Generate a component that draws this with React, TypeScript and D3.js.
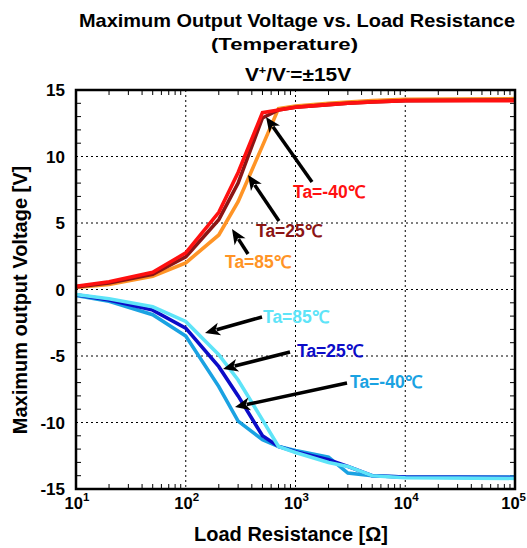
import React from "react";
import * as d3 from "d3";

const resistance = [10, 20, 50, 100, 200, 300, 500, 700, 1000, 2000, 3000, 5000, 10000, 100000];

const posM40 = [0.25, 0.58, 1.3, 2.75, 5.8, 8.8, 13.3, 13.5, 13.7, 13.9, 14.0, 14.1, 14.2, 14.2];
const pos25 = [0.2, 0.5, 1.15, 2.45, 5.25, 8.0, 12.9, 13.5, 13.7, 13.9, 14.0, 14.1, 14.2, 14.25];
const pos85 = [0.15, 0.38, 1.0, 2.0, 4.1, 6.6, 10.8, 13.6, 13.8, 14.0, 14.1, 14.2, 14.3, 14.35];

const negM40 = [-0.45, -0.88, -1.9, -3.5, -7.3, -9.9, -11.3, -11.8, -12.1, -12.6, -13.8, -14.0, -14.1, -14.1];
const neg25 = [-0.4, -0.78, -1.55, -2.9, -5.8, -8.0, -11.0, -11.8, -12.2, -12.8, -13.3, -14.0, -14.1, -14.15];
const neg85 = [-0.37, -0.7, -1.3, -2.4, -4.9, -6.8, -9.8, -11.8, -12.25, -13.0, -13.3, -14.0, -14.15, -14.2];

const yTicks = [15, 10, 5, 0, -5, -10, -15];
const xDecades = [1, 2, 3, 4, 5];

const seriesNames = ["Ta=85℃", "Ta=25℃", "Ta=-40℃", "Ta=-40℃", "Ta=25℃", "Ta=85℃"];

const X0 = 76, X1 = 515, Y0 = 90, Y1 = 489;

export default function App() {
  const x = d3.scaleLog().domain([10, 100000]).range([X0, X1]);
  const y = d3.scaleLinear().domain([-15, 15]).range([Y1, Y0]);
  const line = d3
    .line<[number, number]>()
    .x((d) => x(d[0]))
    .y((d) => y(d[1]));
  const mk = (vals: number[]) => line(resistance.map((r, i) => [r, vals[i]] as [number, number])) || "";

  const series = [
    { vals: pos85, color: "#FF9426" },
    { vals: pos25, color: "#8B1515" },
    { vals: posM40, color: "#FF1010" },
    { vals: negM40, color: "#1AA2E2" },
    { vals: neg25, color: "#0C0CC8" },
    { vals: neg85, color: "#5EE4F8" },
  ];

  const annots = [
    { name: seriesNames[2], color: "#FF1010", tx: 293, ty: 198, sx: 312, sy: 182, ex: 266, ey: 117 },
    { name: seriesNames[1], color: "#8B1515", tx: 256, ty: 237, sx: 279, sy: 221, ex: 248, ey: 175 },
    { name: seriesNames[0], color: "#FF9426", tx: 225, ty: 268, sx: 248, sy: 254, ex: 232, ey: 229 },
    { name: seriesNames[5], color: "#5EE4F8", tx: 263, ty: 323, sx: 262, sy: 317, ex: 205, ey: 333 },
    { name: seriesNames[4], color: "#0C0CC8", tx: 297, ty: 357, sx: 290, sy: 352, ex: 223, ey: 369 },
    { name: seriesNames[3], color: "#1AA2E2", tx: 350, ty: 388, sx: 347, sy: 383, ex: 235, ey: 407 },
  ];

  const minorX: number[] = [];
  for (let d = 1; d < 5; d++) for (let k = 2; k <= 9; k++) minorX.push(k * Math.pow(10, d));
  const minorY: number[] = [];
  for (let v = -14; v <= 14; v++) if (v % 5 !== 0) minorY.push(v);

  const font = "'Liberation Sans', Arial, Helvetica, sans-serif";

  const arrow = (a: any, i: number) => {
    const ang = Math.atan2(a.ey - a.sy, a.ex - a.sx);
    const L = 15, W = 6.5;
    const bx = a.ex - L * Math.cos(ang), by = a.ey - L * Math.sin(ang);
    const px = -Math.sin(ang), py = Math.cos(ang);
    const pts = [
      [a.ex, a.ey],
      [bx + W * px, by + W * py],
      [a.ex - (L - 4) * Math.cos(ang), a.ey - (L - 4) * Math.sin(ang)],
      [bx - W * px, by - W * py],
    ];
    return (
      <g key={"ar" + i}>
        <line x1={a.sx} y1={a.sy} x2={bx + 3 * Math.cos(ang)} y2={by + 3 * Math.sin(ang)} stroke="#000" strokeWidth={3.5} />
        <polygon points={pts.map((p) => p.join(",")).join(" ")} fill="#000" />
      </g>
    );
  };

  return (
    <svg width={527} height={548} style={{ position: "absolute", left: 0, top: 0 }} fontFamily={font}>
      <rect width={527} height={548} fill="#fff" />
      <text x={297} y={27} textAnchor="middle" fontSize={18.5} fontWeight="bold" textLength={436} lengthAdjust="spacingAndGlyphs">
        Maximum Output Voltage vs. Load Resistance
      </text>
      <text x={284.5} y={50} textAnchor="middle" fontSize={16.5} fontWeight="bold" textLength={147} lengthAdjust="spacingAndGlyphs">
        (Temperature)
      </text>
      <g transform="translate(298,81) scale(1.16,1)">
        <text x={0} y={0} textAnchor="middle" fontSize={18} fontWeight="bold">
          V<tspan dy={-7} fontSize={11}>+</tspan>
          <tspan dy={7}>/V</tspan>
          <tspan dy={-7} fontSize={11}>-</tspan>
          <tspan dy={7}>=±15V</tspan>
        </text>
      </g>

      {/* grid */}
      <g stroke="#000" strokeWidth={1} strokeDasharray="2,3">
        {xDecades.slice(1, -1).map((d) => (
          <line key={"gx" + d} x1={x(Math.pow(10, d))} x2={x(Math.pow(10, d))} y1={Y0} y2={Y1} />
        ))}
        {yTicks.slice(1, -1).map((v) => (
          <line key={"gy" + v} x1={X0} x2={X1} y1={y(v)} y2={y(v)} />
        ))}
      </g>

      {/* minor ticks */}
      <g stroke="#000" strokeWidth={1}>
        {minorX.map((v) => (
          <g key={"mx" + v}>
            <line x1={x(v)} x2={x(v)} y1={Y1} y2={Y1 - 5} />
            <line x1={x(v)} x2={x(v)} y1={Y0} y2={Y0 + 5} />
          </g>
        ))}
        {minorY.map((v) => (
          <g key={"my" + v}>
            <line x1={X0} x2={X0 + 5} y1={y(v)} y2={y(v)} />
            <line x1={X1} x2={X1 - 5} y1={y(v)} y2={y(v)} />
          </g>
        ))}
      </g>

      {/* series */}
      <g fill="none" strokeWidth={3.6} strokeLinejoin="miter">
        {series.map((s, i) => (
          <path key={"s" + i} d={mk(s.vals)} stroke={s.color} />
        ))}
      </g>

      <rect x={X0} y={Y0} width={X1 - X0} height={Y1 - Y0} fill="none" stroke="#000" strokeWidth={2.5} />

      {/* y tick labels */}
      {yTicks.map((v) => (
        <text key={"yl" + v} x={65} y={y(v) + 6} textAnchor="end" fontSize={17} fontWeight="bold">
          {v}
        </text>
      ))}
      {/* x tick labels */}
      {xDecades.map((d) => {
        const last = d === xDecades[xDecades.length - 1];
        return (
          <text
            key={"xl" + d}
            x={last ? 526 : x(Math.pow(10, d)) + 1}
            y={509}
            textAnchor={last ? "end" : "middle"}
            fontSize={16.5}
            fontWeight="bold"
          >
            10<tspan dy={-8} fontSize={11.5}>{d}</tspan>
          </text>
        );
      })}

      <text x={291} y={541} textAnchor="middle" fontSize={20} fontWeight="bold">
        Load Resistance [Ω]
      </text>
      <text transform="translate(27,300) rotate(-90)" textAnchor="middle" fontSize={20} fontWeight="bold">
        Maximum output Voltage [V]
      </text>

      {annots.map((a, i) => arrow(a, i))}
      {annots.map((a, i) => (
        <text key={"at" + i} x={a.tx} y={a.ty} fontSize={17.5} fontWeight="bold" fill={a.color}>
          {a.name}
        </text>
      ))}
    </svg>
  );
}
